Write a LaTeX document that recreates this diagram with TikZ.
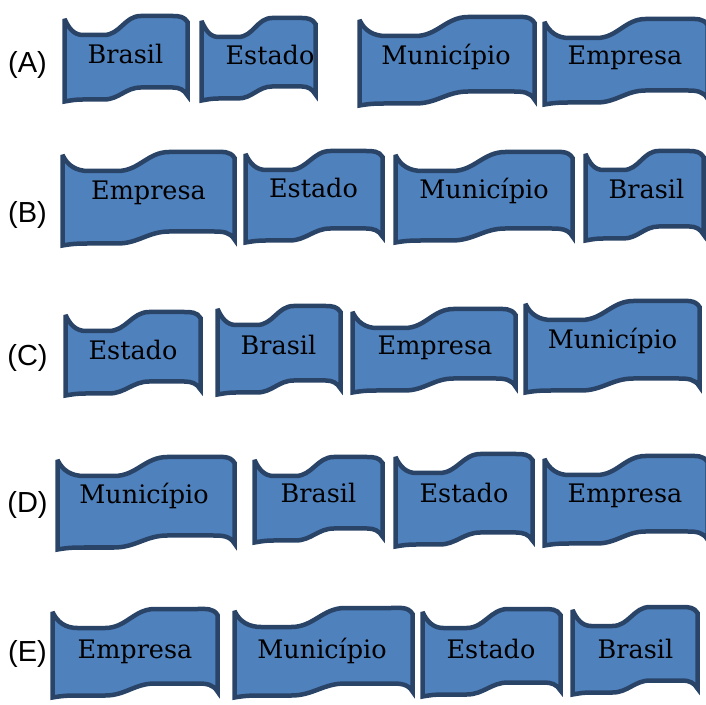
\documentclass[tikz,border=0pt]{standalone}
\usepackage{fontspec}
\setmainfont{DejaVu Serif}
\newfontfamily\labelfont{Liberation Sans}
\definecolor{flagblue}{HTML}{4F81BD}
\definecolor{flagedge}{HTML}{2A4468}
% wave shaped banner: left x, tip y, width, height
\newcommand\wavebox[4]{%
  \draw[flagline] (#1,#2) to[out=-65,in=180]
    ++({0.15*#3},-16) -- ++({0.17*#3},0) to[out=0,in=180]
    ++({0.30*#3},19) -- ++({0.26*#3},0) to[out=0,in=120]
    ++({0.12*#3},-6) -- ++(0,{9-#4}) to[out=120,in=0]
    ++({-0.12*#3},8) -- ++({-0.26*#3},0) to[out=180,in=0]
    ++({-0.30*#3},-12) -- ++({-0.17*#3},0) to[out=180,in=10]
    ++({-0.15*#3},-2) -- cycle;}

\begin{document}
\begin{tikzpicture}[x=1pt,y=1pt,
  flagline/.style={draw=flagedge,fill=flagblue,line width=4.5pt,miter limit=4},
  word/.style={anchor=base,inner sep=0pt,font=\fontsize{25.5}{25.5}\selectfont},
  lbl/.style={inner sep=0pt,font=\labelfont\fontsize{29}{29}\selectfont}]
\fill[white] (0,0) rectangle (706,704);
\useasboundingbox (0,0) rectangle (706,704);

% (A)
\node[lbl] (optA) at (27.5,639) {(A)};
\wavebox{64.5}{685}{123}{82.5}
\wavebox{201.5}{683}{114}{79.5}
\wavebox{359.5}{684}{175}{85.5}
\wavebox{544.5}{682}{163}{82.5}
\node[word] (brasilA) at (125.5,640) {Brasil};
\node[word] (estadoA) at (270,639) {Estado};
\node[word] (municipioA) at (446,639) {Município};
\node[word] (empresaA) at (625,639) {Empresa};

% (B)
\node[lbl] (optB) at (27.5,489) {(B)};
\wavebox{62.5}{549}{172}{90.5}
\wavebox{245.5}{550}{137}{88.5}
\wavebox{395.5}{549}{177}{87.5}
\wavebox{585.5}{550}{118}{86.5}
\node[word] (empresaB) at (148.5,504) {Empresa};
\node[word] (estadoB) at (313.5,506) {Estado};
\node[word] (municipioB) at (484,505) {Município};
\node[word] (brasilB) at (646.5,505) {Brasil};

% (C)
\node[lbl] (optC) at (27.5,346) {(C)};
\wavebox{65.5}{389}{135}{80.5}
\wavebox{217.5}{395}{123}{85.5}
\wavebox{352.5}{392}{163}{80.5}
\wavebox{525.5}{400}{174}{88.5}
\node[word] (estadoC) at (133,344) {Estado};
\node[word] (brasilC) at (278.5,349) {Brasil};
\node[word] (empresaC) at (435,349) {Empresa};
\node[word] (municipioC) at (612.5,355) {Município};

% (D)
\node[lbl] (optD) at (27.5,199) {(D)};
\wavebox{57.5}{244}{177}{89.5}
\wavebox{254.5}{244}{128}{82.5}
\wavebox{395.5}{247}{137}{89.5}
\wavebox{544.5}{245}{163}{86.5}
\node[word] (municipioD) at (144,200) {Município};
\node[word] (brasilD) at (318.5,201) {Brasil};
\node[word] (estadoD) at (464,201) {Estado};
\node[word] (empresaD) at (625,201) {Empresa};

% (E)
\node[lbl] (optE) at (27.5,50) {(E)};
\wavebox{52.5}{92}{165}{85.5}
\wavebox{234.5}{93}{178}{86.5}
\wavebox{422.5}{92}{138}{84.5}
\wavebox{572.5}{94}{125}{84.5}
\node[word] (empresaE) at (135,46) {Empresa};
\node[word] (municipioE) at (322,46) {Município};
\node[word] (estadoE) at (491,46) {Estado};
\node[word] (brasilE) at (635.5,46) {Brasil};
\end{tikzpicture}
\end{document}
